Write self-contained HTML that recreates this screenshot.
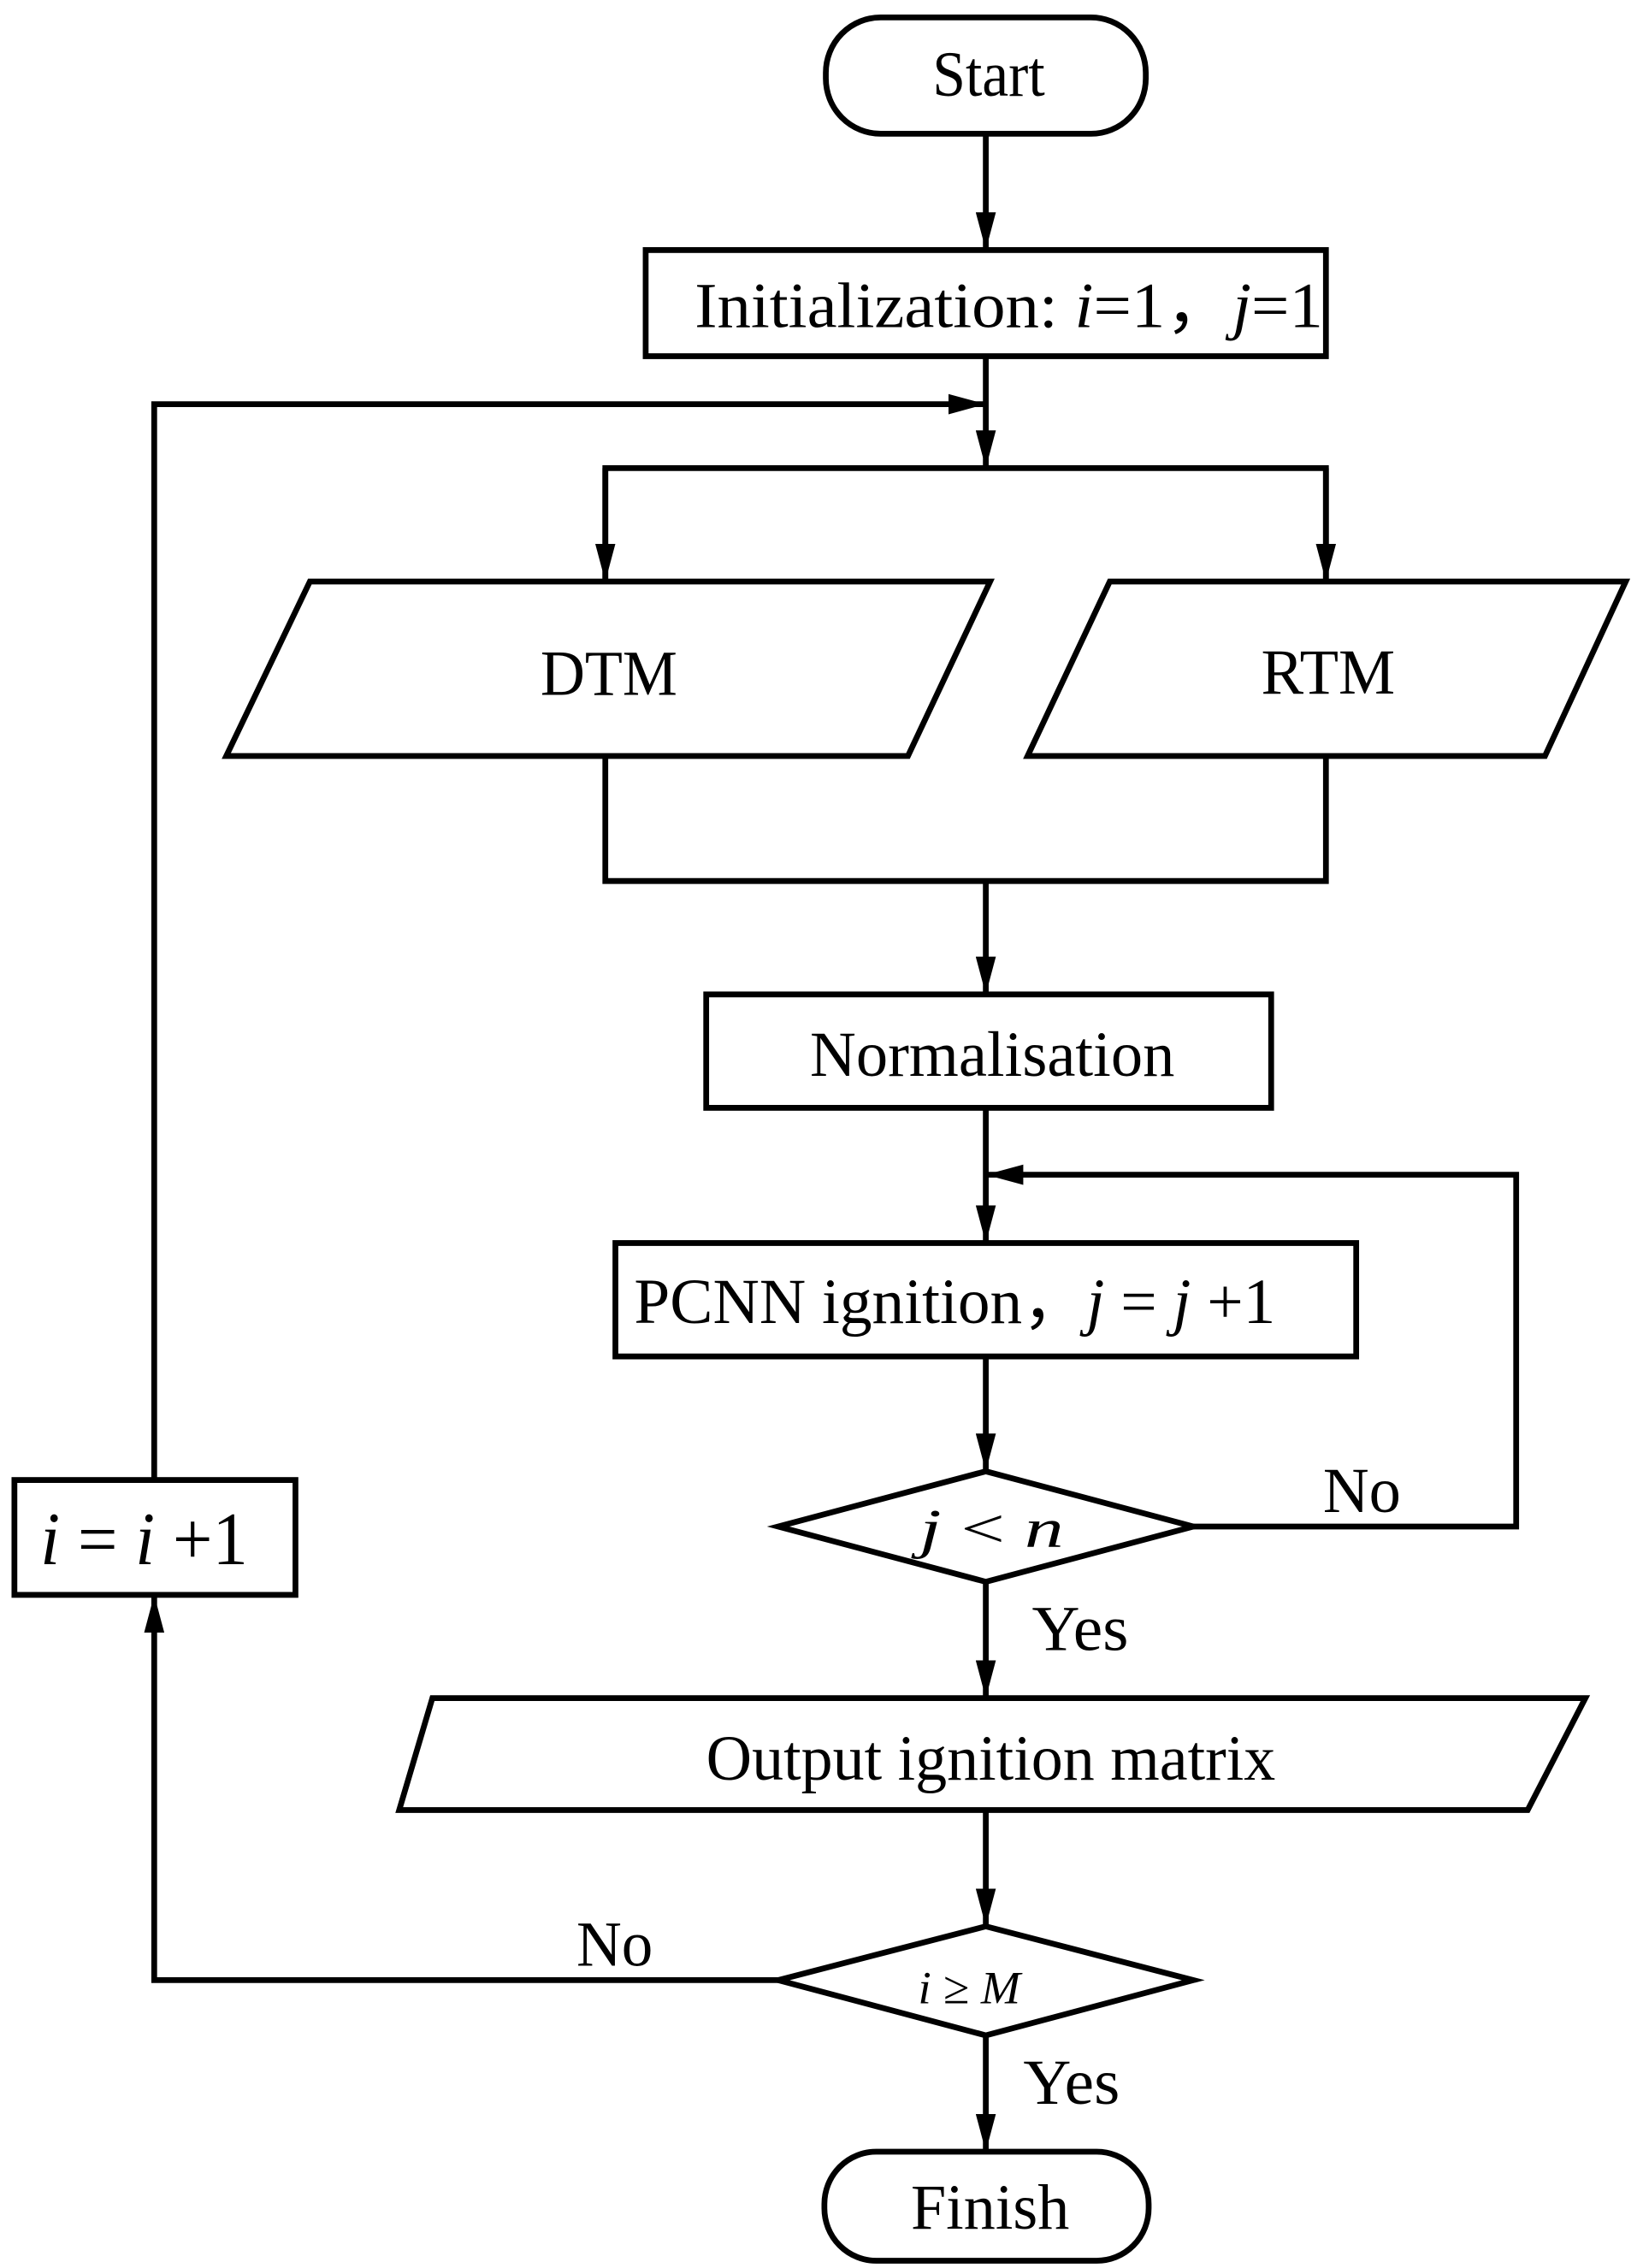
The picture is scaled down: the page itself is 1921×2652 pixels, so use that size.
<!DOCTYPE html>
<html><head><meta charset="utf-8"><style>html,body{margin:0;padding:0;background:#fff}svg{display:block}</style></head>
<body>
<svg width="1921" height="2652" viewBox="0 0 1140 1560" preserveAspectRatio="none" xmlns="http://www.w3.org/2000/svg">
<defs>
<marker id="a" viewBox="0 0 26 14" refX="26" refY="7" markerWidth="26" markerHeight="14" markerUnits="userSpaceOnUse" orient="auto"><path d="M0,0 L26,7 L0,14 z" fill="#000"/></marker>
</defs>
<g fill="none" stroke="#000" stroke-width="4" stroke-linejoin="miter">
<rect x="573" y="12" width="222" height="80" rx="38" ry="38"/>
<line x1="684" y1="92" x2="684" y2="172" marker-end="url(#a)"/>
<rect x="448" y="172" width="472" height="73"/>
<line x1="684" y1="245" x2="684" y2="322" marker-end="url(#a)"/>
<polyline points="107,1018 107,278 684,278" marker-end="url(#a)"/>
<polyline points="420,400 420,322 920,322 920,400"/>
<line x1="420" y1="322" x2="420" y2="400" marker-end="url(#a)"/>
<line x1="920" y1="322" x2="920" y2="400" marker-end="url(#a)"/>
<polygon points="215,400 687,400 630,520 157,520"/>
<polygon points="770,400 1128,400 1072,520 713,520"/>
<polyline points="420,520 420,606 920,606 920,520"/>
<line x1="684" y1="606" x2="684" y2="684" marker-end="url(#a)"/>
<rect x="490" y="684" width="392" height="78"/>
<line x1="684" y1="762" x2="684" y2="855" marker-end="url(#a)"/>
<polyline points="828,1050 1052,1050 1052,808 684,808" marker-end="url(#a)"/>
<rect x="427" y="855" width="514" height="78"/>
<line x1="684" y1="933" x2="684" y2="1012" marker-end="url(#a)"/>
<polygon points="684,1012 828,1050 684,1088 540,1050"/>
<line x1="684" y1="1088" x2="684" y2="1168" marker-end="url(#a)"/>
<polygon points="300,1168 1100,1168 1060,1245 277,1245"/>
<line x1="684" y1="1245" x2="684" y2="1325" marker-end="url(#a)"/>
<polygon points="684,1325 828,1362 684,1400 540,1362"/>
<polyline points="540,1362 107,1362 107,1097" marker-end="url(#a)"/>
<rect x="10" y="1018" width="195" height="79"/>
<line x1="684" y1="1400" x2="684" y2="1480" marker-end="url(#a)"/>
<rect x="572" y="1480" width="225" height="75" rx="36" ry="36"/>
</g>
<g font-family="'Liberation Serif', serif" fill="#000">
<text x="647" y="66" font-size="44" textLength="78" lengthAdjust="spacingAndGlyphs">Start</text>
<text x="482" y="225" font-size="44" textLength="436" lengthAdjust="spacingAndGlyphs">Initialization: <tspan font-style="italic">i</tspan>=1，<tspan font-style="italic">j</tspan>=1</text>
<text x="375" y="478" font-size="44" textLength="95" lengthAdjust="spacingAndGlyphs">DTM</text>
<text x="875" y="477" font-size="44" textLength="93" lengthAdjust="spacingAndGlyphs">RTM</text>
<text x="562" y="740" font-size="44" textLength="253" lengthAdjust="spacingAndGlyphs">Normalisation</text>
<text x="440" y="910" font-size="44" textLength="445" lengthAdjust="spacingAndGlyphs">PCNN ignition，<tspan font-style="italic">j</tspan> = <tspan font-style="italic">j</tspan> +1</text>
<text x="638" y="1064" font-size="38" textLength="100" lengthAdjust="spacingAndGlyphs"><tspan font-style="italic">j</tspan> &lt; <tspan font-style="italic">n</tspan></text>
<text x="490" y="1224" font-size="44" textLength="395" lengthAdjust="spacingAndGlyphs">Output ignition matrix</text>
<text x="637" y="1378" font-size="32" textLength="71" lengthAdjust="spacingAndGlyphs" font-style="italic">i ≥ M</text>
<text x="28" y="1076" font-size="52" textLength="144" lengthAdjust="spacingAndGlyphs"><tspan font-style="italic">i</tspan> = <tspan font-style="italic">i</tspan> +1</text>
<text x="918" y="1040" font-size="44" textLength="54" lengthAdjust="spacingAndGlyphs">No</text>
<text x="400" y="1352" font-size="44" textLength="53" lengthAdjust="spacingAndGlyphs">No</text>
<text x="716" y="1135" font-size="44" textLength="67" lengthAdjust="spacingAndGlyphs">Yes</text>
<text x="710" y="1447" font-size="44" textLength="67" lengthAdjust="spacingAndGlyphs">Yes</text>
<text x="632" y="1533" font-size="44" textLength="110" lengthAdjust="spacingAndGlyphs">Finish</text>
</g>
</svg>
</body></html>
